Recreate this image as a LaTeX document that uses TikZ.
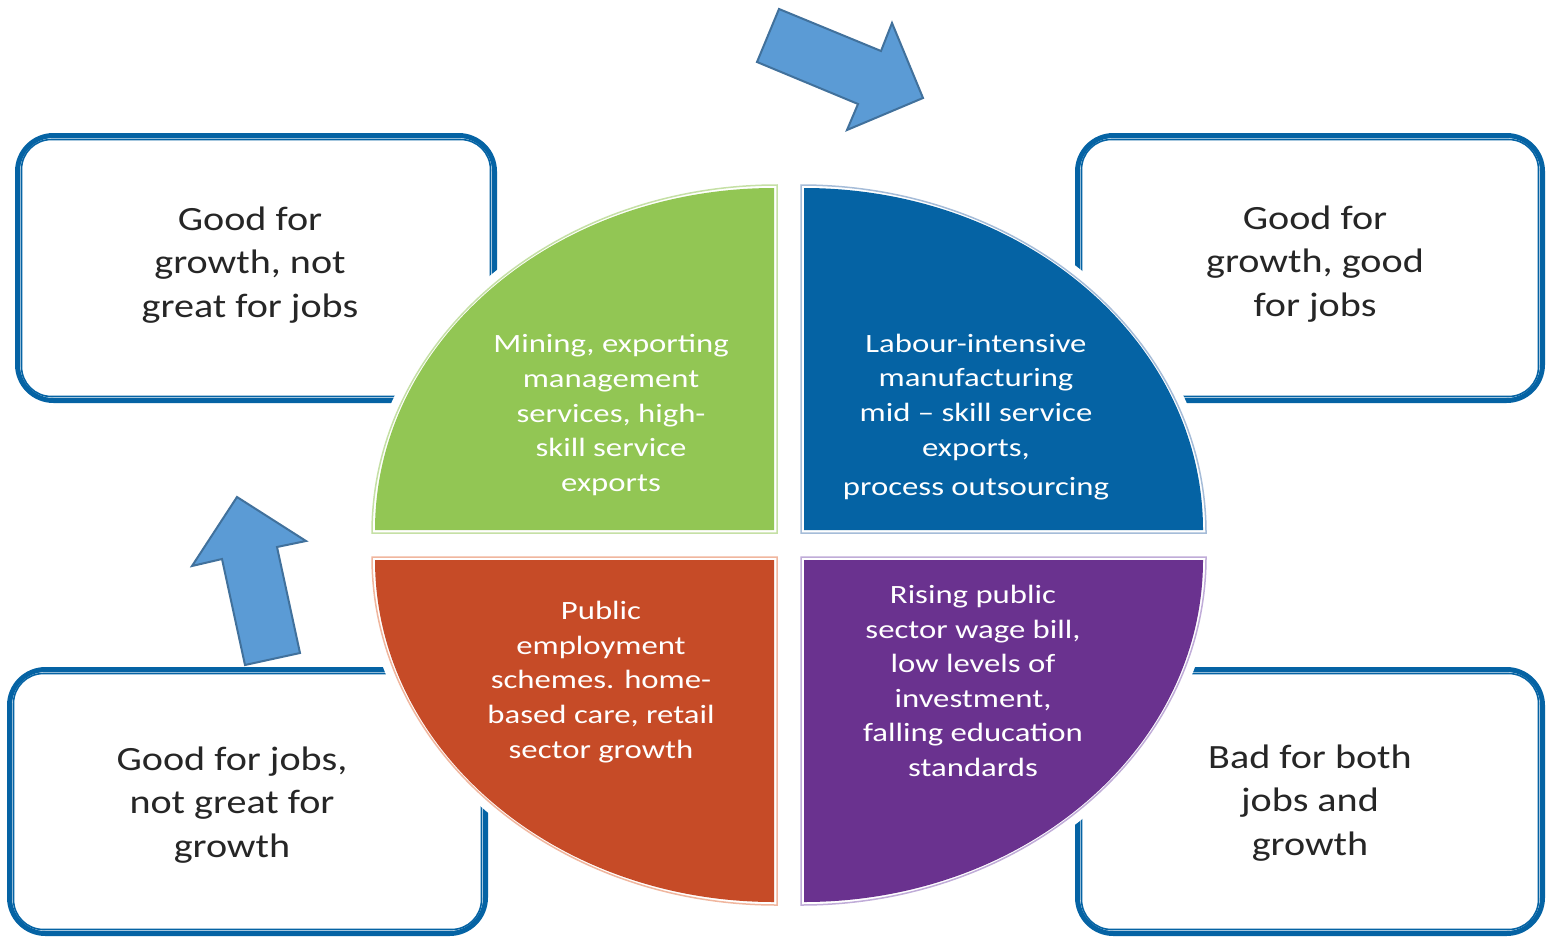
\documentclass[tikz,border=0pt]{standalone}
\usepackage{fontspec}
\setmainfont{Carlito}[FakeStretch=1.18]
\newfontfamily\qfont{Carlito}[FakeStretch=1.24]
\definecolor{boxblue}{RGB}{5,99,164}
\definecolor{txtdark}{RGB}{38,38,38}
\definecolor{qgreen}{RGB}{146,198,84}
\definecolor{qgreenl}{RGB}{197,224,165}
\definecolor{qblue}{RGB}{5,99,164}
\definecolor{qbluel}{RGB}{165,188,216}
\definecolor{qred}{RGB}{198,75,39}
\definecolor{qredl}{RGB}{240,182,158}
\definecolor{qpurple}{RGB}{106,50,143}
\definecolor{qpurplel}{RGB}{192,172,216}
\definecolor{arrowfill}{RGB}{91,155,213}
\definecolor{arrowline}{RGB}{65,113,156}
\begin{document}
\begin{tikzpicture}[x=1pt,y=-1pt,
  outerbox/.style={draw=boxblue, line width=5pt, rounded corners=36pt, inner sep=0pt},
  innerline/.style={draw=boxblue, line width=1.6pt, rounded corners=30pt},
  boxtext/.style={text=txtdark, align=center, font=\fontsize{34}{43.5}\selectfont},
  qtext/.style={text=white, align=center, font=\qfont\fontsize{26.4}{34.6}\selectfont},
  halo/.style={draw=white, line width=18pt, line join=round},
  qoutline/.style={line width=1.5pt},
  blockarrow/.style={fill=arrowfill, draw=arrowline, line width=2pt, line join=miter}
]
\useasboundingbox (0,0) rectangle (1546,937);
\fill[white] (0,0) rectangle (1546,937);

% corner boxes
\node[outerbox, minimum width=477pt, minimum height=265pt] (tlbox) at (256,268) {};
\node[outerbox, minimum width=465pt, minimum height=265pt] (trbox) at (1310,268) {};
\node[outerbox, minimum width=476pt, minimum height=264pt] (blbox) at (247.5,801.5) {};
\node[outerbox, minimum width=465pt, minimum height=264pt] (brbox) at (1310,801.5) {};
\foreach \b in {tlbox,trbox,blbox,brbox}{
  \draw[innerline] ([shift={(6.5,6.5)}]\b.north west) rectangle ([shift={(-6.5,-6.5)}]\b.south east);
}
\node[boxtext] (tltext) at (250,265) {Good for\\growth, not\\great for jobs};
\node[boxtext] (trtext) at (1315,264) {Good for\\growth, good\\for jobs};
\node[boxtext] (bltext) at (232,805) {Good for jobs,\\not great for\\growth};
\node[boxtext] (brtext) at (1310,803) {Bad for both\\jobs and\\growth};

% halos
\draw[halo] (777,533) -- (372,533) arc[start angle=180, end angle=90, x radius=405pt, y radius=348pt] -- cycle;
\draw[halo] (801,533) -- (801,185) arc[start angle=90, end angle=0, x radius=405pt, y radius=348pt] -- cycle;
\draw[halo] (777,557) -- (372,557) arc[start angle=180, end angle=270, x radius=405pt, y radius=348pt] -- cycle;
\draw[halo] (801,557) -- (1206,557) arc[start angle=0, end angle=-90, x radius=405pt, y radius=348pt] -- cycle;

% quadrants: thin light outline
\draw[qoutline, draw=qgreenl] (777,533) -- (372,533) arc[start angle=180, end angle=90, x radius=405pt, y radius=348pt] -- cycle;
\draw[qoutline, draw=qbluel] (801,533) -- (801,185) arc[start angle=90, end angle=0, x radius=405pt, y radius=348pt] -- cycle;
\draw[qoutline, draw=qredl] (777,557) -- (372,557) arc[start angle=180, end angle=270, x radius=405pt, y radius=348pt] -- cycle;
\draw[qoutline, draw=qpurplel] (801,557) -- (1206,557) arc[start angle=0, end angle=-90, x radius=405pt, y radius=348pt] -- cycle;

% quadrant fills
\fill[qgreen] (774,530) -- (375,530) arc[start angle=180, end angle=90, x radius=399pt, y radius=342pt] -- cycle;
\fill[qblue] (804,530) -- (804,188) arc[start angle=90, end angle=0, x radius=399pt, y radius=342pt] -- cycle;
\fill[qred] (774,560) -- (375,560) arc[start angle=180, end angle=270, x radius=399pt, y radius=342pt] -- cycle;
\fill[qpurple] (804,560) -- (1203,560) arc[start angle=0, end angle=-90, x radius=399pt, y radius=342pt] -- cycle;

% quadrant texts
\node[qtext] (gtext) at (611,415) {Mining, exporting\\management\\services, high-\\skill service\\exports};
\node[qtext] (btext) at (976,417) {Labour-intensive\\manufacturing\\mid – skill service\\exports,\\[5pt]process outsourcing};
\node[qtext] (rtext) at (601,682) {Public\\employment\\schemes. home-\\based care, retail\\sector growth};
\node[qtext] (ptext) at (973,681) {Rising public\\sector wage bill,\\low levels of\\investment,\\falling education\\standards};

% block arrows
\draw[blockarrow] (779,9) -- (881,51) -- (892,23) -- (923,98) -- (847,130) -- (858,104) -- (757,62) -- cycle;
\draw[blockarrow] (237,497) -- (306,541) -- (277,547) -- (300,653) -- (245,665) -- (222,559) -- (192,566) -- cycle;
\end{tikzpicture}
\end{document}
